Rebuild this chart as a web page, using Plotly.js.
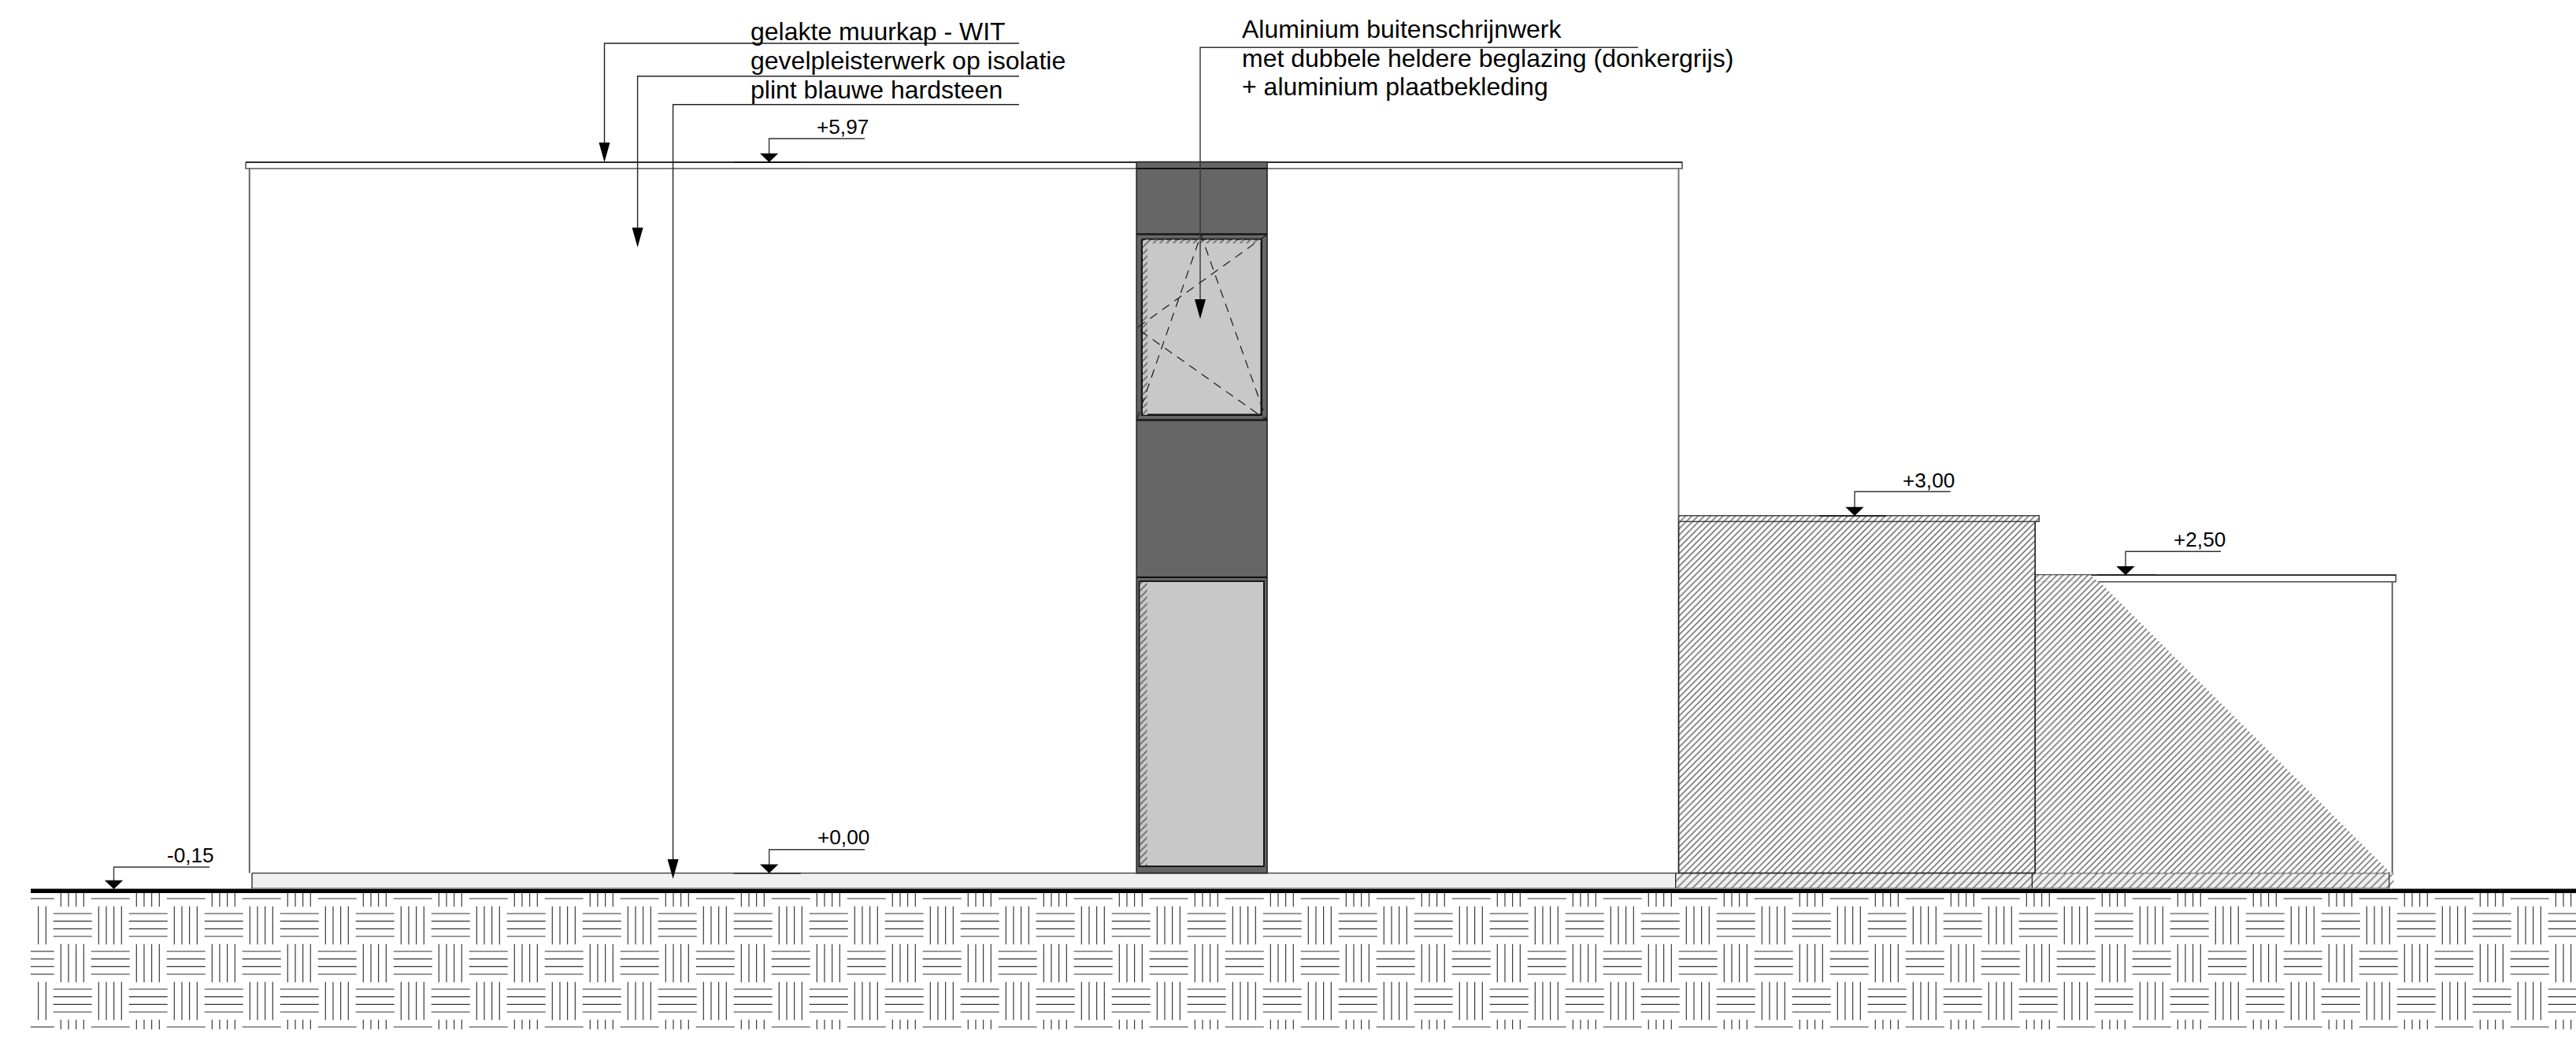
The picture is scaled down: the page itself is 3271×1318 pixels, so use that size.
<!DOCTYPE html>
<html>
<head>
<meta charset="utf-8">
<script src="https://cdn.plot.ly/plotly-3.0.1.min.js"></script>
<style>html,body{margin:0;padding:0;background:#fff}#g{width:3271px;height:1318px}</style>
</head>
<body>
<div id="g"></div>
<script>
// Elevation marks
const levelLabels = ['+5,97', '+3,00', '+2,50', '+0,00', '-0,15'];
const levelApexX  = [976.6, 2355, 2699, 976.7, 144.5];
const levelApexY  = [206, 655, 730.3, 1108.7, 1129];
const levelStemY  = [176, 624.3, 700.3, 1078.7, 1101];
const levelShelfX = [1098, 2476.7, 2820, 1098, 266];
const levelTextX  = [1036, 2415, 2758.5, 1036.5, 211];
const levelBaseY  = [170, 619, 694, 1071.7, 1095];
const levelTickA  = [932, 2310, 2664, 931.7, null];
const levelTickB  = [1016, 2395, 2738, 1016.7, null];

// Notes
const noteLabels = ['gelakte muurkap - WIT', 'gevelpleisterwerk op isolatie', 'plint blauwe hardsteen',
  'Aluminium buitenschrijnwerk', 'met dubbele heldere beglazing (donkergrijs)', '+ aluminium plaatbekleding'];
const noteX     = [952, 952, 952, 1576, 1576, 1576];
const noteBaseY = [51, 88, 125, 48, 85, 121];

// Leaders with arrows
const leaderX    = [767.5, 809.6, 854.6, 1524];
const leaderY    = [55, 96.7, 132.7, 60.3];
const leaderEndX = [1294, 1294, 1294, 2080];
const leaderTipY = [206, 314, 1116, 405];

// Building outline
const mainWallX   = [316.8, 2131.5];
const mainWallY   = [214, 1108.5];
const mainCopingX = [312, 2136];
const mainCopingY = [206, 214];
const plinthMainX = [320, 2127.7];
const plinthHatchX = [2127.7, 3034];
const plinthEndX  = [3034, 3039.6];
const plinthY     = [1108.6, 1128.3];
const plinthDividerX = [2580.4];
const wallAX = [2131.7, 2584.3];
const wallAY = [662.3, 1108.5];
const copingAX = [2131.7, 2589.3];
const copingAY = [654.7, 662.3];
const copingBX = [2584.3, 3042.3];
const copingBY = [730.3, 738.7];
const wallBRightX = [3037.7];
const wallBHatchX = [2584.3, 2666, 3036, 2584.3];
const wallBHatchY = [738.7, 738.7, 1108.5, 1108.5];
const copingBHatchX = [2584.3, 2655, 2664, 2584.3];
const copingBHatchY = [730.3, 730.3, 738.7, 738.7];

// Aluminium column and glazing
const columnX = [1443.2, 1609];
const columnY = [205.7, 1108.6];
const columnRailsY = [214, 297.3, 533.3, 733];
const glassTopX = [1450, 1601.7];
const glassTopY = [304, 526.7];
const glassLowX = [1446.7, 1605];
const glassLowY = [738, 1100];
const openSashX = [1443.3, 1525, 1608.3, null, 1608.3, 1443.3, 1608.3];
const openSashY = [533.3, 298, 533.3, null, 298.3, 416.7, 533.3];

// Ground
const groundX = [39, 3271];
const groundY = [1131.2];
const earthClipY = [1134, 1307];
const basketPitch = 96;
const basketLines = [0, 9.67, 19.33, 29];
const basketRowA = [1150.7, 1246.7];
const basketRowB = [1102.7, 1198.7, 1294.7];

const colorDark = '#666666', colorGlass = '#c8c8c8', colorPlinth = '#f0f0f0';
const fontName = '"Liberation Sans", Arial, sans-serif';
const noteSize = 32, levelSize = 26.2;

const traces = [];
function poly(x, y, o) {
  o = o || {};
  const t = {x: x, y: y, type: 'scatter', mode: 'lines', hoverinfo: 'skip', showlegend: false,
    line: {color: o.line || 'rgba(0,0,0,0)', width: o.width === undefined ? 1.5 : o.width, dash: o.dash || 'solid'}};
  if (o.fill || o.pattern) { t.fill = 'toself'; t.fillcolor = o.fill || 'rgba(0,0,0,0)'; }
  if (o.pattern) t.fillpattern = o.pattern;
  traces.push(t);
}
function rect(xs, ys, o) {
  poly([xs[0], xs[1], xs[1], xs[0], xs[0]], [ys[0], ys[0], ys[1], ys[1], ys[0]], o);
}
function hatch(size, bg, solidity) {
  return {shape: '/', size: size, solidity: solidity || 0.28, fgcolor: '#666666', bgcolor: bg || '#ffffff', fillmode: 'replace'};
}

// Earth basket weave as one trace of separated strokes
const earthX = [], earthY = [];
function stroke(x0, y0, x1, y1) {
  const lx = groundX[0], hx = groundX[1], ly = earthClipY[0], hy = earthClipY[1];
  if (y1 < ly || y0 > hy || x1 < lx || x0 > hx) return;
  earthX.push(Math.max(x0, lx), Math.min(x1, hx), null);
  earthY.push(Math.max(y0, ly), Math.min(y1, hy), null);
}
function basketRow(top, vertStart, horizStart) {
  for (let a = vertStart; a < groundX[1]; a += basketPitch) {
    basketLines.forEach(d => stroke(a + d, top, a + d, top + 48.6));
  }
  for (let a = horizStart; a < groundX[1]; a += basketPitch) {
    basketLines.forEach(d => stroke(a, top + 9.3 + d, a + 49, top + 9.3 + d));
  }
}
basketRowA.forEach(t => basketRow(t, 29.3, 67.7));
basketRowB.forEach(t => basketRow(t, 77.3, 19.7));
poly(earthX, earthY, {line: '#333333', width: 1.15});

// Ground line
poly(groundX, [groundY[0], groundY[0]], {line: '#000000', width: 5.6});

// Plinth
rect(plinthMainX, plinthY, {fill: colorPlinth, line: '#333333', width: 1.4});
rect(plinthHatchX, plinthY, {pattern: hatch(7, colorPlinth, 0.2), line: '#333333', width: 1.4});
rect(plinthEndX, plinthY, {pattern: hatch(7, '#ffffff', 0.2)});
poly([plinthDividerX[0], plinthDividerX[0]], plinthY, {line: '#222222', width: 1.3});
poly([plinthHatchX[1], plinthHatchX[1]], plinthY, {line: '#444444', width: 1.1});
poly([plinthMainX[0], plinthHatchX[1]], [plinthY[1], plinthY[1]], {line: '#8a8a8a', width: 1.4});

// Main wall
poly([mainWallX[0], mainWallX[0]], mainWallY, {line: '#666666', width: 2});
poly([mainWallX[1], mainWallX[1]], mainWallY, {line: '#777777', width: 2});
rect(mainCopingX, mainCopingY, {fill: '#ffffff', line: '#555555', width: 1.6});
poly(mainCopingX, [mainCopingY[0], mainCopingY[0]], {line: '#111111', width: 1.6});

// Hatched lower volumes
rect(wallAX, wallAY, {pattern: hatch(5.6), line: '#222222', width: 1.4});
rect(copingAX, copingAY, {pattern: hatch(5.6), line: '#444444', width: 1.4});
rect(copingBX, copingBY, {fill: '#ffffff', line: '#444444', width: 1.5});
poly(copingBX, [copingBY[0], copingBY[0]], {line: '#111111', width: 1.5});
poly(copingBHatchX, copingBHatchY, {pattern: hatch(5.6)});
poly(wallBHatchX, wallBHatchY, {pattern: hatch(5.6)});
poly([wallBRightX[0], wallBRightX[0]], [copingBY[1], wallAY[1]], {line: '#555555', width: 1.8});
poly([wallAX[1], wallAX[1]], wallAY, {line: '#222222', width: 1.4});

// Aluminium column
rect(columnX, columnY, {fill: colorDark, line: '#2a2a2a', width: 1.7});
columnRailsY.forEach(y => poly(columnX, [y, y], {line: '#111111', width: 2.2}));

// Upper glazing
rect(glassTopX, glassTopY, {fill: colorGlass, line: '#111111', width: 2.4});
rect([glassTopX[0] + 1, glassTopX[0] + 7], glassTopY, {pattern: hatch(6, colorGlass)});
rect([glassTopX[0] + 1, glassTopX[1] - 1], [glassTopY[0], glassTopY[0] + 5], {pattern: hatch(6, colorGlass)});
poly([glassTopX[0], glassTopX[0], glassTopX[1]], [glassTopY[1], glassTopY[0], glassTopY[0]], {line: '#222222', width: 1.4, dash: '8px,3px'});
poly(openSashX, openSashY, {line: '#1a1a1a', width: 1.2, dash: '11px,8px'});

// Lower panel
rect(glassLowX, glassLowY, {fill: colorGlass, line: '#1a1a1a', width: 2});
rect([glassLowX[0] + 1, glassLowX[0] + 10], [glassLowY[0] + 1, glassLowY[1] - 1], {pattern: hatch(6, colorGlass)});

// Leaders
leaderX.forEach((x, i) => {
  poly([leaderEndX[i], x, x], [leaderY[i], leaderY[i], leaderTipY[i] - 20], {line: i === 3 ? '#333333' : '#222222', width: 1.4});
  poly([x - 7, x + 7, x, x - 7], [leaderTipY[i] - 25, leaderTipY[i] - 25, leaderTipY[i], leaderTipY[i] - 25], {fill: '#000000', width: 0});
});

// Elevation marks
levelLabels.forEach((s, i) => {
  const ax = levelApexX[i], ay = levelApexY[i];
  if (levelTickA[i] !== null) poly([levelTickA[i], levelTickB[i]], [ay, ay], {line: '#111111', width: 1.6});
  poly([levelShelfX[i], ax, ax], [levelStemY[i], levelStemY[i], ay - 10], {line: '#333333', width: 1.4});
  poly([ax - 11.7, ax + 11.7, ax, ax - 11.7], [ay - 11.3, ay - 11.3, ay, ay - 11.3], {fill: '#000000', width: 0});
});

// Text: centred vertically around the line box, placed from the baseline
const baseShift = 0.3465;
const annotations = [];
noteLabels.forEach((s, i) => annotations.push({text: s, x: noteX[i], y: noteBaseY[i] - baseShift * noteSize,
  xref: 'x', yref: 'y', xanchor: 'left', yanchor: 'middle', showarrow: false, borderpad: 0,
  font: {family: fontName, size: noteSize, color: '#000000'}}));
levelLabels.forEach((s, i) => annotations.push({text: s, x: levelTextX[i], y: levelBaseY[i] - baseShift * levelSize,
  xref: 'x', yref: 'y', xanchor: 'left', yanchor: 'middle', showarrow: false, borderpad: 0,
  font: {family: fontName, size: levelSize, color: '#000000'}}));

const layout = {
  width: 3271, height: 1318,
  margin: {l: 0, r: 0, t: 0, b: 0, pad: 0},
  paper_bgcolor: '#ffffff', plot_bgcolor: '#ffffff',
  showlegend: false,
  xaxis: {range: [0, 3271], visible: false, fixedrange: true},
  yaxis: {range: [1318, 0], visible: false, fixedrange: true},
  annotations: annotations
};
Plotly.newPlot('g', traces, layout, {displayModeBar: false, staticPlot: true});
</script>
</body>
</html>
